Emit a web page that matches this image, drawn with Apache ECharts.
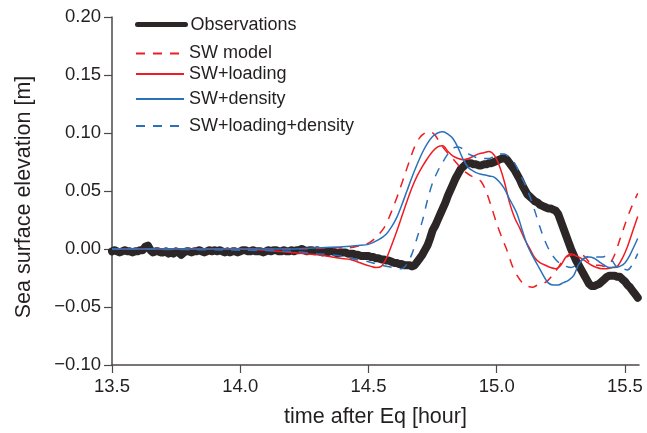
<!DOCTYPE html>
<html>
<head>
<meta charset="utf-8">
<script src="https://cdn.jsdelivr.net/npm/echarts@6/dist/echarts.min.js"></script>
<style>html,body{margin:0;padding:0;background:#fff}#c{width:647px;height:433px}</style>
</head>
<body>
<div id="c"></div>
<script>
// X tick labels / Y tick labels
var xTicks = [13.5, 14.0, 14.5, 15.0, 15.5];
var yTicks = [-0.10, -0.05, 0.00, 0.05, 0.10, 0.15, 0.20];

// Observations sampled every 0.01 h starting at 13.50
var obsStart = 13.5, obsStep = 0.01;
var obsValues = [
 -0.002,-0.001,-0.002,-0.003,-0.002,-0.001,-0.002,-0.002,-0.003,-0.002,
 -0.002,-0.001,-0.001,0.002,0.003,-0.001,-0.003,-0.002,-0.002,-0.003,
 -0.003,-0.002,-0.004,-0.003,-0.004,-0.002,-0.003,-0.005,-0.003,-0.002,
 -0.002,-0.003,-0.002,-0.002,-0.001,-0.002,-0.003,-0.002,-0.001,-0.002,
 -0.001,-0.002,-0.001,-0.002,-0.003,-0.002,-0.003,-0.002,-0.002,-0.003,
 -0.002,-0.001,-0.001,-0.002,-0.002,-0.001,-0.002,-0.002,-0.002,-0.003,
 -0.002,-0.001,-0.002,-0.001,-0.001,-0.002,-0.002,-0.001,-0.002,-0.002,
 -0.001,-0.002,-0.001,-0.001,0.000,-0.001,-0.002,-0.001,-0.001,-0.002,
 -0.001,-0.002,-0.003,-0.002,-0.003,-0.002,-0.002,-0.003,-0.004,-0.003,
 -0.003,-0.003,-0.004,-0.004,-0.004,-0.005,-0.005,-0.006,-0.006,-0.006,
 -0.006,-0.007,-0.007,-0.008,-0.008,-0.009,-0.009,-0.010,-0.010,-0.011,
 -0.012,-0.012,-0.013,-0.013,-0.014,-0.014,-0.014,-0.015,-0.014,-0.011,
 -0.008,-0.005,-0.001,0.003,0.009,0.016,0.020,0.025,0.030,0.035,
 0.040,0.046,0.051,0.056,0.061,0.065,0.069,0.071,0.073,0.074,
 0.074,0.073,0.073,0.072,0.072,0.073,0.073,0.074,0.074,0.075,
 0.076,0.077,0.078,0.078,0.077,0.074,0.071,0.068,0.064,0.060,
 0.055,0.051,0.047,0.045,0.043,0.041,0.040,0.038,0.037,0.036,
 0.035,0.035,0.034,0.033,0.030,0.024,0.018,0.012,0.006,0.000,
 -0.005,-0.010,-0.014,-0.018,-0.022,-0.026,-0.030,-0.032,-0.032,-0.031,
 -0.030,-0.028,-0.026,-0.024,-0.023,-0.023,-0.023,-0.024,-0.024,-0.026,
 -0.028,-0.031,-0.033,-0.036,-0.039,-0.042
];

var swModelT = [13.50,13.70,13.90,14.10,14.25,14.35,14.42,14.47,14.50,14.53,14.56,14.58,14.60,14.62,14.64,14.66,14.68,14.70,14.72,14.74,14.76,14.78,14.80,14.82,14.84,14.86,14.88,14.90,14.92,14.94,14.96,14.98,15.00,15.02,15.04,15.06,15.08,15.10,15.12,15.14,15.16,15.18,15.20,15.22,15.24,15.26,15.28,15.30,15.32,15.34,15.36,15.38,15.40,15.42,15.44,15.46,15.48,15.50,15.52,15.55];
var swModelV = [0.000,0.000,0.000,0.000,0.000,0.001,0.001,0.003,0.005,0.010,0.018,0.027,0.038,0.050,0.063,0.076,0.088,0.096,0.100,0.101,0.098,0.091,0.085,0.080,0.075,0.070,0.066,0.063,0.061,0.058,0.049,0.036,0.022,0.010,-0.001,-0.014,-0.023,-0.029,-0.032,-0.033,-0.031,-0.030,-0.027,-0.022,-0.016,-0.009,-0.006,-0.005,-0.005,-0.006,-0.011,-0.014,-0.014,-0.015,-0.013,-0.005,0.008,0.021,0.033,0.048];

var swLoadT = [13.50,13.80,14.00,14.10,14.20,14.30,14.39,14.43,14.48,14.51,14.53,14.55,14.57,14.59,14.61,14.63,14.65,14.67,14.69,14.71,14.73,14.75,14.77,14.79,14.81,14.83,14.85,14.87,14.89,14.91,14.93,14.95,14.97,14.99,15.01,15.03,15.05,15.07,15.09,15.11,15.13,15.15,15.17,15.19,15.21,15.23,15.25,15.27,15.29,15.31,15.33,15.35,15.37,15.39,15.41,15.43,15.45,15.47,15.49,15.51,15.53,15.55];
var swLoadV = [0.000,0.000,0.000,-0.001,-0.003,-0.005,-0.008,-0.009,-0.013,-0.015,-0.016,-0.015,-0.008,0.003,0.015,0.028,0.041,0.053,0.063,0.071,0.078,0.084,0.088,0.089,0.084,0.080,0.078,0.077,0.078,0.080,0.082,0.083,0.084,0.081,0.072,0.058,0.040,0.027,0.018,0.008,0.000,-0.008,-0.012,-0.014,-0.016,-0.017,-0.014,-0.007,-0.004,-0.006,-0.008,-0.011,-0.014,-0.016,-0.017,-0.017,-0.016,-0.015,-0.008,0.002,0.015,0.028];

var swDensT = [13.50,14.00,14.20,14.30,14.40,14.46,14.50,14.54,14.57,14.59,14.61,14.63,14.65,14.67,14.69,14.71,14.73,14.75,14.77,14.79,14.81,14.83,14.85,14.87,14.89,14.91,14.93,14.95,14.97,14.99,15.01,15.03,15.05,15.06,15.08,15.10,15.12,15.14,15.16,15.18,15.20,15.22,15.24,15.26,15.28,15.30,15.32,15.34,15.36,15.38,15.40,15.42,15.44,15.46,15.48,15.50,15.52,15.55];
var swDensV = [0.000,0.000,0.000,0.001,0.002,0.003,0.004,0.008,0.013,0.019,0.027,0.038,0.050,0.062,0.073,0.083,0.091,0.097,0.100,0.101,0.099,0.095,0.087,0.077,0.070,0.067,0.065,0.064,0.063,0.062,0.058,0.052,0.043,0.039,0.030,0.016,0.003,-0.006,-0.014,-0.022,-0.029,-0.031,-0.031,-0.029,-0.027,-0.023,-0.013,-0.008,-0.007,-0.008,-0.011,-0.014,-0.016,-0.016,-0.015,-0.012,-0.005,0.009];

var swLdT = [13.50,14.00,14.20,14.30,14.39,14.45,14.50,14.55,14.60,14.63,14.65,14.67,14.69,14.71,14.73,14.75,14.77,14.79,14.81,14.83,14.85,14.87,14.89,14.91,14.93,14.95,14.97,14.99,15.01,15.03,15.05,15.07,15.09,15.11,15.13,15.15,15.17,15.19,15.21,15.23,15.25,15.27,15.29,15.31,15.33,15.35,15.37,15.39,15.41,15.43,15.45,15.47,15.49,15.51,15.53,15.55];
var swLdV = [0.000,-0.001,-0.002,-0.004,-0.006,-0.009,-0.011,-0.014,-0.016,-0.017,-0.013,-0.004,0.010,0.024,0.042,0.057,0.067,0.075,0.082,0.087,0.088,0.086,0.082,0.080,0.078,0.078,0.078,0.080,0.082,0.082,0.079,0.074,0.065,0.056,0.045,0.032,0.018,0.006,-0.003,-0.009,-0.013,-0.015,-0.016,-0.014,-0.010,-0.007,-0.006,-0.007,-0.007,-0.006,-0.010,-0.016,-0.017,-0.018,-0.013,-0.004];

var seriesNames = ['Observations','SW model','SW+loading','SW+density','SW+loading+density'];

function pairs(ts, vs){ return ts.map(function(t,i){ return [t, vs[i]]; }); }
var obsData = obsValues.map(function(v,i){ return [+(obsStart + i*obsStep).toFixed(2), v]; });

var RED = '#ee1d23', BLUE = '#2b71b9', OBS = '#2c2627';
var font = '"Liberation Sans", Arial, Helvetica, sans-serif';
var DASH = [9, 8];

function lg(name, cy, lw){
  var o = {
    data:[name], left:135, top: cy - 10, padding:0, itemWidth:48, itemHeight:14,
    selectedMode:false,
    itemStyle:{opacity:0},
    textStyle:{fontFamily:font, fontSize:18, color:'#231f20', lineHeight:20}
  };
  if (lw) o.lineStyle = {width: lw};
  return o;
}

var chart = echarts.init(document.getElementById('c'), null, {renderer:'canvas'});
chart.setOption({
  animation:false,
  backgroundColor:'#fff',
  grid:{left:112, top:17, width:527, height:352, containLabel:false},
  legend:[
    lg(seriesNames[0], 24.6, 5),
    lg(seriesNames[1], 53.5),
    lg(seriesNames[2], 74),
    lg(seriesNames[3], 99),
    lg(seriesNames[4], 126)
  ],
  xAxis:{
    type:'value', min:13.5, max:15.555,
    name:'time after Eq [hour]', nameLocation:'middle', nameGap:41,
    nameTextStyle:{fontFamily:font, fontSize:21.5, color:'#231f20'},
    axisLine:{show:true, onZero:false, lineStyle:{color:'#4d4849', width:1.5}},
    axisTick:{show:true, length:8, inside:false, customValues:xTicks, lineStyle:{color:'#4d4849', width:1.2}},
    axisLabel:{customValues:xTicks, margin:12, fontFamily:font, fontSize:18.5, color:'#231f20',
      formatter:function(v){ return v.toFixed(1); }},
    splitLine:{show:false}
  },
  yAxis:{
    type:'value', min:-0.1, max:0.2,
    name:'Sea surface elevation [m]', nameLocation:'middle', nameGap:77,
    nameTextStyle:{fontFamily:font, fontSize:21.5, color:'#231f20', padding:[0,12,0,0]},
    axisLine:{show:true, onZero:false, lineStyle:{color:'#4d4849', width:1.5}},
    axisTick:{show:true, length:8, inside:false, customValues:yTicks, lineStyle:{color:'#4d4849', width:1.2}},
    axisLabel:{customValues:yTicks, margin:11, fontFamily:font, fontSize:18.5, color:'#231f20',
      formatter:function(v){ var s = Math.abs(v).toFixed(2); return v < -1e-9 ? '\u2212' + s : s; }},
    splitLine:{show:false}
  },
  series:[
    {name:seriesNames[0], type:'line', data:obsData, symbol:'none', showSymbol:false,
      lineStyle:{color:OBS, width:8, join:'round', cap:'round'}, itemStyle:{color:OBS}, z:1},
    {name:seriesNames[1], type:'line', data:pairs(swModelT, swModelV), symbol:'none', showSymbol:false, smooth:0.3,
      lineStyle:{color:RED, width:1.5, type:DASH}, itemStyle:{color:RED}, z:2},
    {name:seriesNames[2], type:'line', data:pairs(swLoadT, swLoadV), symbol:'none', showSymbol:false, smooth:0.3,
      lineStyle:{color:RED, width:1.5}, itemStyle:{color:RED}, z:2},
    {name:seriesNames[3], type:'line', data:pairs(swDensT, swDensV), symbol:'none', showSymbol:false, smooth:0.3,
      lineStyle:{color:BLUE, width:1.5}, itemStyle:{color:BLUE}, z:2},
    {name:seriesNames[4], type:'line', data:pairs(swLdT, swLdV), symbol:'none', showSymbol:false, smooth:0.3,
      lineStyle:{color:BLUE, width:1.5, type:DASH}, itemStyle:{color:BLUE}, z:2}
  ]
});
</script>
</body>
</html>
